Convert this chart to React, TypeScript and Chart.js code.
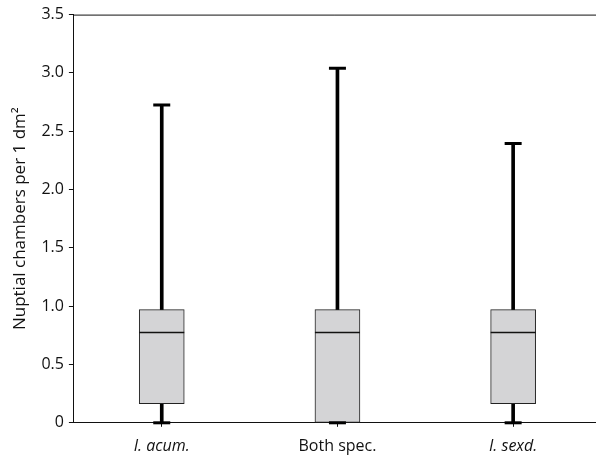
import React, { useEffect, useRef } from "react";
import { Chart, registerables } from "chart.js";

Chart.register(...registerables);

const categories = ["I. acum.", "Both spec.", "I. sexd."];
const italicCats = [true, false, true];
const mins = [0, 0, 0];
const q1s = [0.165, 0, 0.165];
const medians = [0.775, 0.775, 0.775];
const q3s = [0.97, 0.97, 0.97];
const maxs = [2.725, 3.04, 2.395];
const yTicks = [0, 0.5, 1, 1.5, 2, 2.5, 3, 3.5];

const FONT = "'Open Sans', 'Noto Sans', sans-serif";

const topBorder = {
  id: "topBorder",
  afterDraw(chart: any) {
    const { ctx, chartArea } = chart;
    ctx.save();
    ctx.strokeStyle = "#111";
    ctx.lineWidth = 1;
    ctx.beginPath();
    ctx.moveTo(chartArea.left, chartArea.top + 0.5);
    ctx.lineTo(chartArea.right, chartArea.top + 0.5);
    ctx.stroke();
    ctx.restore();
  },
};

export default function App() {
  const ref = useRef<HTMLCanvasElement>(null);
  useEffect(() => {
    if (!ref.current) return;
    const idx = categories.map((_, i) => i);
    const chart = new Chart(ref.current, {
      type: "bar",
      data: {
        datasets: [
          {
            type: "scatter",
            label: "median",
            data: idx.map((i) => ({ x: i, y: medians[i] })),
            pointStyle: "line",
            pointRadius: 22.5,
            pointHoverRadius: 22.5,
            borderColor: "#111",
            borderWidth: 1.5,
            clip: false,
            order: 0,
          } as any,
          {
            type: "scatter",
            label: "caps",
            data: idx.flatMap((i) => [
              { x: i, y: mins[i] },
              { x: i, y: maxs[i] },
            ]),
            pointStyle: "line",
            pointRadius: 8.5,
            pointHoverRadius: 8.5,
            borderColor: "#000",
            borderWidth: 3,
            clip: false,
            order: 1,
          } as any,
          {
            type: "bar",
            label: "box",
            data: idx.map((i) => ({ x: i, y: [q1s[i], q3s[i]] })),
            backgroundColor: "#d4d4d6",
            borderColor: "#222",
            borderWidth: 1,
            borderSkipped: false,
            barThickness: 45,
            grouped: false,
            order: 2,
          } as any,
          {
            type: "bar",
            label: "upper",
            data: idx.map((i) => ({ x: i, y: [q3s[i], maxs[i]] })),
            backgroundColor: "#000",
            borderWidth: 0,
            barThickness: 3,
            grouped: false,
            order: 3,
          } as any,
          {
            type: "bar",
            label: "lower",
            data: idx.map((i) => ({ x: i, y: [mins[i], q1s[i]] })),
            backgroundColor: "#000",
            borderWidth: 0,
            barThickness: 3,
            grouped: false,
            order: 3,
          } as any,
        ],
      },
      options: {
        animation: false,
        responsive: false,
        maintainAspectRatio: false,
        layout: { autoPadding: false, padding: { top: 5, right: 0, left: 10, bottom: -9 } },
        plugins: {
          legend: { display: false },
          tooltip: { enabled: false },
        },
        scales: {
          x: {
            type: "linear",
            min: -0.5,
            max: 2.4716,
            offset: false,
            afterBuildTicks: (axis: any) => {
              axis.ticks = idx.map((i) => ({ value: i }));
            },
            ticks: {
              color: "#111",
              padding: 10,
              font: (c: any) => ({
                family: FONT,
                size: 16,
                style: italicCats[c.index] ? "italic" : "normal",
              }),
              callback: (v: any) => categories[v] ?? "",
              maxRotation: 0,
            },
            grid: {
              offset: false,
              drawOnChartArea: false,
              drawTicks: true,
              tickLength: 4,
              color: "#111",
            },
            border: { display: true, color: "#111", width: 1 },
          },
          y: {
            min: 0,
            max: 3.5,
            afterBuildTicks: (axis: any) => {
              axis.ticks = yTicks.map((v) => ({ value: v }));
            },
            ticks: {
              color: "#111",
              padding: 5,
              font: { family: FONT, size: 16 },
              callback: (v: any) => (v === 0 ? "0" : Number(v).toFixed(1)),
            },
            grid: {
              drawOnChartArea: false,
              drawTicks: true,
              tickLength: 5,
              color: "#111",
            },
            border: { display: true, color: "#111", width: 1 },
            title: {
              display: true,
              text: "Nuptial chambers per 1 dm²",
              color: "#111",
              font: { family: FONT, size: 17 },
              padding: { top: 0, bottom: 6 },
            },
          },
        },
      },
      plugins: [topBorder],
    });
    return () => chart.destroy();
  }, []);
  return (
    <div style={{ position: "fixed", left: 0, top: 0, width: 596, height: 457, background: "#fff" }}>
      <canvas ref={ref} width={596} height={457} style={{ display: "block" }} />
    </div>
  );
}
